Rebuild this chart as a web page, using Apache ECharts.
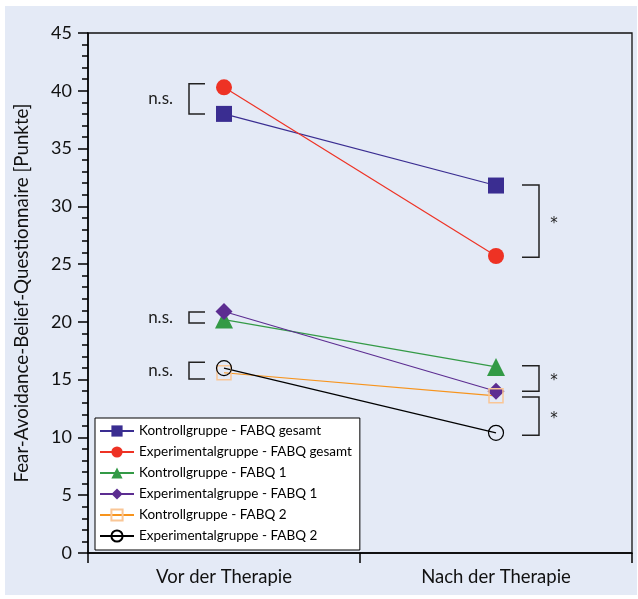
<!DOCTYPE html>
<html>
<head>
<meta charset="utf-8">
<script src="https://cdn.jsdelivr.net/npm/echarts@6/dist/echarts.min.js"></script>
<style>
html,body{margin:0;padding:0;background:#fff;}
#wrap{position:absolute;left:5px;top:6px;width:632px;height:589px;background:#e4eaf6;}
#chart{position:absolute;left:0;top:0;width:638px;height:599px;}
</style>
</head>
<body>
<div id="wrap"></div>
<div id="chart"></div>
<script>
const categories = ['Vor der Therapie', 'Nach der Therapie'];
const seriesNames = [
  'Kontrollgruppe - FABQ gesamt',
  'Experimentalgruppe - FABQ gesamt',
  'Kontrollgruppe - FABQ 1',
  'Experimentalgruppe - FABQ 1',
  'Kontrollgruppe - FABQ 2',
  'Experimentalgruppe - FABQ 2'
];
const kontrollGesamt = [38.0, 31.8];
const experimentalGesamt = [40.3, 25.7];
const kontrollFabq1 = [20.2, 16.1];
const experimentalFabq1 = [20.9, 14.0];
const kontrollFabq2 = [15.6, 13.6];
const experimentalFabq2 = [16.0, 10.4];
const yTicks = [0, 5, 10, 15, 20, 25, 30, 35, 40, 45];
const yAxisTitle = 'Fear-Avoidance-Belief-Questionnaire [Punkte]';
// significance brackets: category index, upper value, lower value, label
const bracketCats = [0, 0, 0, 1, 1, 1];
const bracketHigh = [40.6, 20.85, 16.5, 31.85, 16.2, 13.5];
const bracketLow = [38.0, 19.9, 15.05, 25.6, 14.0, 10.2];
const bracketLabels = ['n.s.', 'n.s.', 'n.s.', '*', '*', '*'];

const FONT = 'Lato';
const chart = echarts.init(document.getElementById('chart'), null, {renderer: 'canvas'});

function mkSeries(name, data, color, symbol, size, extra) {
  return Object.assign({
    name: name, type: 'line', data: data,
    symbol: symbol, symbolSize: size,
    lineStyle: {color: color, width: 1.2},
    itemStyle: {color: color},
    emphasis: {disabled: true},
    animation: false
  }, extra || {});
}

const option = {
  animation: false,
  backgroundColor: 'transparent',
  textStyle: {fontFamily: FONT},
  grid: {left: 88, right: 6, top: 33, bottom: 46, show: true, borderColor: '#111', borderWidth: 1.3, backgroundColor: 'transparent'},
  legend: {
    orient: 'vertical', left: 95, top: 418,
    backgroundColor: '#fff', borderColor: '#000', borderWidth: 1,
    padding: [6, 8, 7, 4], itemGap: 7, itemWidth: 34, itemHeight: 14,
    textStyle: {fontFamily: FONT, fontSize: 13.5, color: '#000'},
    data: seriesNames
  },
  xAxis: {
    type: 'category', data: categories, boundaryGap: true,
    axisLine: {lineStyle: {color: '#000', width: 1.5}},
    axisTick: {show: true, length: 10, lineStyle: {color: '#000', width: 1.5}},
    axisLabel: {fontFamily: FONT, fontSize: 18.5, color: '#111', margin: 15},
    splitLine: {show: false}
  },
  yAxis: {
    type: 'value', min: 0, max: 45, interval: 5,
    name: yAxisTitle, nameLocation: 'middle', nameGap: 57,
    nameTextStyle: {fontFamily: FONT, fontSize: 18.75, color: '#111'},
    axisLine: {show: true, lineStyle: {color: '#000', width: 1.5}},
    axisTick: {show: true, length: 10, lineStyle: {color: '#000', width: 1.5}},
    minorTick: {show: true, splitNumber: 5, length: 6, lineStyle: {color: '#000', width: 1.5}},
    axisLabel: {fontFamily: FONT, fontSize: 18, color: '#111', margin: 16,
      formatter: v => yTicks.includes(v) ? String(v) : ''},
    splitLine: {show: false}
  },
  series: [
    mkSeries(seriesNames[0], kontrollGesamt, '#3a2d91', 'rect', 16),
    mkSeries(seriesNames[1], experimentalGesamt, '#ee3224', 'circle', 16),
    mkSeries(seriesNames[2], kontrollFabq1, '#339a46', 'triangle', 18),
    mkSeries(seriesNames[3], experimentalFabq1, '#5c2d91', 'diamond', 17),
    mkSeries(seriesNames[4], kontrollFabq2, '#f7941d', 'rect', 14,
      {itemStyle: {color: 'rgba(255,255,255,0)', borderColor: '#f9c696', borderWidth: 1.5}}),
    mkSeries(seriesNames[5], experimentalFabq2, '#000000', 'circle', 15,
      {itemStyle: {color: 'rgba(255,255,255,0)', borderColor: '#000', borderWidth: 1.2}})
  ]
};
chart.setOption(option);

const graphics = [];
for (let i = 0; i < bracketCats.length; i++) {
  const cat = categories[bracketCats[i]];
  const p1 = chart.convertToPixel({gridIndex: 0}, [cat, bracketHigh[i]]);
  const p2 = chart.convertToPixel({gridIndex: 0}, [cat, bracketLow[i]]);
  const left = bracketCats[i] === 0;
  let pts, tx, align, font, dy;
  if (left) {
    const xv = p1[0] - 35, xa = p1[0] - 19;
    pts = [[xa, p1[1]], [xv, p1[1]], [xv, p2[1]], [xa, p2[1]]];
    tx = p1[0] - 51; align = 'right'; font = '17px ' + FONT; dy = 0;
  } else {
    const xa = p1[0] + 26, xv = p1[0] + 43;
    pts = [[xa, p1[1]], [xv, p1[1]], [xv, p2[1]], [xa, p2[1]]];
    tx = p1[0] + 58; align = 'center'; font = '15px "DejaVu Sans"'; dy = 3;
  }
  graphics.push({type: 'polyline', shape: {points: pts}, style: {stroke: '#222', lineWidth: 1.5, fill: null}, z: 10});
  graphics.push({type: 'text', x: tx, y: (p1[1] + p2[1]) / 2 + dy,
    style: {text: bracketLabels[i], font: font, fill: '#222', align: align, verticalAlign: 'middle'}, z: 10});
}
chart.setOption({graphic: graphics});
</script>
</body>
</html>
